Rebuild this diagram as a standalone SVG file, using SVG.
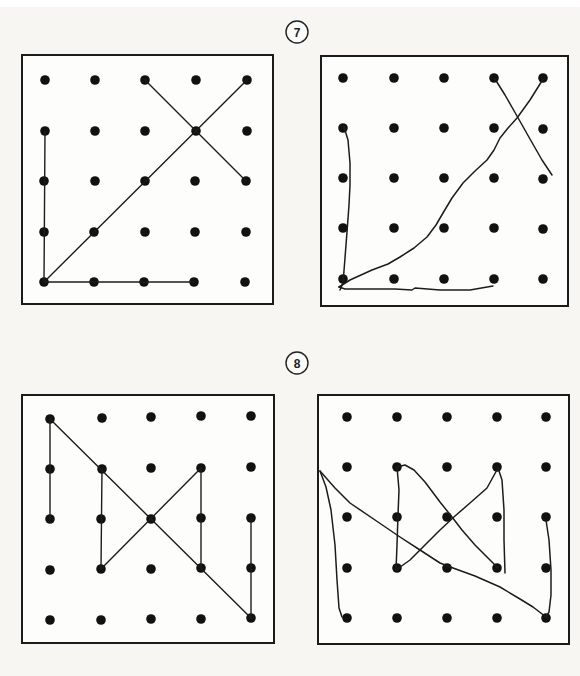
<svg xmlns="http://www.w3.org/2000/svg" width="580" height="676" viewBox="0 0 580 676">
<style>
.bg{fill:#f7f6f3}
.panel{fill:#fdfdfc;stroke:#1b1b1b;stroke-width:2}
.dot{fill:#111}
.ln{fill:none;stroke:#1c1c1c;stroke-width:1.4;stroke-linecap:round;stroke-linejoin:round}
.hd{fill:none;stroke:#1c1c1c;stroke-width:1.5;stroke-linecap:round;stroke-linejoin:round}
.badge{fill:#fbfbf9;stroke:#222;stroke-width:1.4}
.num{font-family:"Liberation Sans",Arial,sans-serif;font-size:12px;font-weight:bold;fill:#222;text-anchor:middle}
</style>
<rect class="bg" x="0" y="0" width="580" height="676"/>
<rect x="0" y="0" width="580" height="7" fill="#ffffff"/>

<g id="label7">
<circle class="badge" cx="297" cy="32" r="11"/>
<text class="num" x="297" y="36.5">7</text>
</g>
<g id="label8">
<circle class="badge" cx="297" cy="363" r="11"/>
<text class="num" x="297" y="367.5">8</text>
</g>

<g id="panel1">
<rect class="panel" x="22" y="55" width="251" height="249"/>
<g class="dots">
<circle class="dot" cx="45" cy="80" r="4.8"/><circle class="dot" cx="95" cy="80" r="4.8"/><circle class="dot" cx="145" cy="80" r="4.8"/><circle class="dot" cx="196" cy="80" r="4.8"/><circle class="dot" cx="247" cy="80" r="4.8"/>
<circle class="dot" cx="45" cy="131" r="4.8"/><circle class="dot" cx="95" cy="131" r="4.8"/><circle class="dot" cx="145" cy="131" r="4.8"/><circle class="dot" cx="196" cy="131" r="4.8"/><circle class="dot" cx="247" cy="131" r="4.8"/>
<circle class="dot" cx="44" cy="181" r="4.8"/><circle class="dot" cx="95" cy="181" r="4.8"/><circle class="dot" cx="145" cy="181" r="4.8"/><circle class="dot" cx="195" cy="181" r="4.8"/><circle class="dot" cx="246" cy="181" r="4.8"/>
<circle class="dot" cx="44" cy="232" r="4.8"/><circle class="dot" cx="94" cy="232" r="4.8"/><circle class="dot" cx="145" cy="232" r="4.8"/><circle class="dot" cx="195" cy="232" r="4.8"/><circle class="dot" cx="246" cy="232" r="4.8"/>
<circle class="dot" cx="44" cy="282" r="4.8"/><circle class="dot" cx="94" cy="282" r="4.8"/><circle class="dot" cx="144" cy="282" r="4.8"/><circle class="dot" cx="194" cy="282" r="4.8"/><circle class="dot" cx="245" cy="282" r="4.8"/>
</g>
</g>

<g id="panel2">
<rect class="panel" x="321" y="56" width="247" height="250"/>
<g class="dots">
<circle class="dot" cx="343" cy="78" r="4.8"/><circle class="dot" cx="394" cy="78" r="4.8"/><circle class="dot" cx="444" cy="78" r="4.8"/><circle class="dot" cx="494" cy="78" r="4.8"/><circle class="dot" cx="543" cy="78" r="4.8"/>
<circle class="dot" cx="343" cy="128" r="4.8"/><circle class="dot" cx="394" cy="128" r="4.8"/><circle class="dot" cx="444" cy="128" r="4.8"/><circle class="dot" cx="494" cy="128" r="4.8"/><circle class="dot" cx="543" cy="129" r="4.8"/>
<circle class="dot" cx="343" cy="178" r="4.8"/><circle class="dot" cx="394" cy="178" r="4.8"/><circle class="dot" cx="444" cy="178" r="4.8"/><circle class="dot" cx="494" cy="178" r="4.8"/><circle class="dot" cx="543" cy="179" r="4.8"/>
<circle class="dot" cx="343" cy="228" r="4.8"/><circle class="dot" cx="394" cy="228" r="4.8"/><circle class="dot" cx="444" cy="228" r="4.8"/><circle class="dot" cx="494" cy="228" r="4.8"/><circle class="dot" cx="543" cy="229" r="4.8"/>
<circle class="dot" cx="343" cy="279" r="4.8"/><circle class="dot" cx="394" cy="279" r="4.8"/><circle class="dot" cx="444" cy="279" r="4.8"/><circle class="dot" cx="494" cy="279" r="4.8"/><circle class="dot" cx="543" cy="279" r="4.8"/>
</g>
</g>

<g id="panel3">
<rect class="panel" x="22" y="395" width="252" height="248"/>
<g class="dots">
<circle class="dot" cx="50" cy="419" r="4.8"/><circle class="dot" cx="102" cy="418" r="4.8"/><circle class="dot" cx="151" cy="417" r="4.8"/><circle class="dot" cx="201" cy="416" r="4.8"/><circle class="dot" cx="251" cy="416" r="4.8"/>
<circle class="dot" cx="50" cy="469" r="4.8"/><circle class="dot" cx="102" cy="469" r="4.8"/><circle class="dot" cx="151" cy="468" r="4.8"/><circle class="dot" cx="201" cy="468" r="4.8"/><circle class="dot" cx="251" cy="467" r="4.8"/>
<circle class="dot" cx="50" cy="519" r="4.8"/><circle class="dot" cx="101" cy="519" r="4.8"/><circle class="dot" cx="151" cy="519" r="4.8"/><circle class="dot" cx="201" cy="518" r="4.8"/><circle class="dot" cx="251" cy="518" r="4.8"/>
<circle class="dot" cx="50" cy="570" r="4.8"/><circle class="dot" cx="101" cy="569" r="4.8"/><circle class="dot" cx="151" cy="569" r="4.8"/><circle class="dot" cx="201" cy="568" r="4.8"/><circle class="dot" cx="251" cy="568" r="4.8"/>
<circle class="dot" cx="50" cy="620" r="4.8"/><circle class="dot" cx="101" cy="620" r="4.8"/><circle class="dot" cx="151" cy="619" r="4.8"/><circle class="dot" cx="201" cy="619" r="4.8"/><circle class="dot" cx="251" cy="618" r="4.8"/>
</g>
</g>

<g id="panel4">
<rect class="panel" x="318" y="395" width="251" height="249"/>
<g class="dots">
<circle class="dot" cx="347" cy="417" r="4.8"/><circle class="dot" cx="397" cy="417" r="4.8"/><circle class="dot" cx="447" cy="417" r="4.8"/><circle class="dot" cx="497" cy="417" r="4.8"/><circle class="dot" cx="546" cy="417" r="4.8"/>
<circle class="dot" cx="347" cy="467" r="4.8"/><circle class="dot" cx="397" cy="467" r="4.8"/><circle class="dot" cx="447" cy="467" r="4.8"/><circle class="dot" cx="497" cy="467" r="4.8"/><circle class="dot" cx="546" cy="467" r="4.8"/>
<circle class="dot" cx="347" cy="517" r="4.8"/><circle class="dot" cx="397" cy="517" r="4.8"/><circle class="dot" cx="447" cy="517" r="4.8"/><circle class="dot" cx="497" cy="517" r="4.8"/><circle class="dot" cx="546" cy="517" r="4.8"/>
<circle class="dot" cx="347" cy="568" r="4.8"/><circle class="dot" cx="397" cy="568" r="4.8"/><circle class="dot" cx="447" cy="568" r="4.8"/><circle class="dot" cx="497" cy="568" r="4.8"/><circle class="dot" cx="546" cy="568" r="4.8"/>
<circle class="dot" cx="347" cy="618" r="4.8"/><circle class="dot" cx="397" cy="618" r="4.8"/><circle class="dot" cx="447" cy="618" r="4.8"/><circle class="dot" cx="497" cy="618" r="4.8"/><circle class="dot" cx="546" cy="618" r="4.8"/>
</g>
</g>

<g id="connectors">
<line class="ln" x1="145" y1="80" x2="246" y2="181"/>
<line class="ln" x1="247" y1="80" x2="44" y2="282"/>
<line class="ln" x1="45" y1="131" x2="44" y2="282"/>
<line class="ln" x1="44" y1="282" x2="194" y2="282"/>
<polyline class="hd" points="495,79 505,95 517,116 530,139 542,160 552,175"/>
<polyline class="hd" points="339,287 350,280 372,270 388,264 400,257 414,248 427,237 436,225 443,213 452,198 463,183 475,171 487,160 494,150 500,138 508,128 517,118 530,100 540,84 543,79"/>
<polyline class="hd" points="344,127 348,140 350,163 350,185 349,205 347,232 345,258 343,283 340,290"/>
<polyline class="hd" points="339,287 345,289 370,289 395,289 412,290 415,288 440,290 470,290 493,286"/>
<line class="ln" x1="50" y1="419" x2="50" y2="519"/>
<line class="ln" x1="50" y1="419" x2="251" y2="618"/>
<line class="ln" x1="102" y1="469" x2="101" y2="569"/>
<line class="ln" x1="101" y1="569" x2="201" y2="468"/>
<line class="ln" x1="201" y1="468" x2="201" y2="568"/>
<line class="ln" x1="251" y1="518" x2="251" y2="618"/>
<polyline class="hd" points="320,471 335,488 350,503 375,520 400,537 420,550 440,563 453,568 475,576 500,587 520,599 533,607 546,617"/>
<polyline class="hd" points="320,471 326,487 331,510 335,545 337,580 339,608 342,617"/>
<polyline class="hd" points="546,520 549,540 551,570 551,595 549,612 546,617"/>
<polyline class="hd" points="397,467 399,490 398,515 397,545 396,570"/>
<polyline class="hd" points="396,570 410,560 425,545 440,530 455,516 470,503 487,488 498,468"/>
<polyline class="hd" points="498,468 502,480 504,510 504,540 505,573"/>
<polyline class="hd" points="397,467 405,465 414,470 425,482 440,502 452,517 462,530 475,545 490,560 498,568"/>
</g>
</svg>
